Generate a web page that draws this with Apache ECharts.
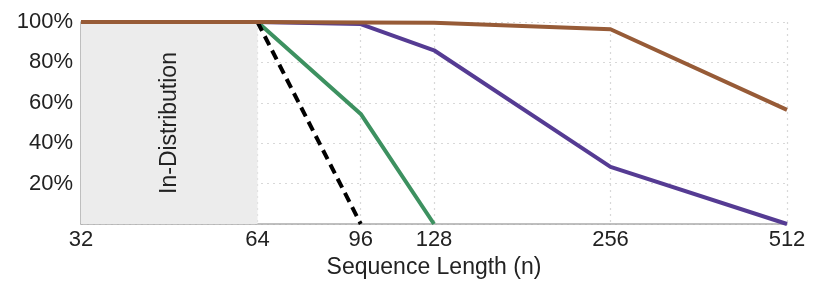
<!DOCTYPE html>
<html><head><meta charset="utf-8">
<script src="https://cdn.jsdelivr.net/npm/echarts@6/dist/echarts.min.js"></script>
<style>html,body{margin:0;padding:0;background:#fff}#c{width:821px;height:296px}</style>
</head><body><div id="c"></div>
<script>
const xTicks = [32, 64, 96, 128, 256, 512];
const yTicks = [20, 40, 60, 80, 100];
const brownN = [32, 64, 96, 128, 256, 512];
const brownV = [100, 100, 99.8, 99.6, 96.4, 56.5];
const purpleN = [32, 64, 96, 128, 256, 512];
const purpleV = [100, 100, 99, 86, 28.3, 0];
const greenN = [32, 64, 96, 128];
const greenV = [100, 100, 54.5, 0];
const blackN = [64, 96];
const blackV = [100, 0];
const regionN = [32, 64];
const regionLabel = 'In-Distribution';

const L = Math.log2;
const pts = (ns, vs) => ns.map((n, i) => [L(n), vs[i]]);
const font = 'Liberation Sans, Arial, sans-serif';

const chart = echarts.init(document.getElementById('c'), null, {renderer: 'canvas'});
chart.setOption({
  animation: false,
  grid: {left: 81, right: 34, top: 22, bottom: 72, containLabel: false},
  xAxis: {
    type: 'value', min: L(32), max: L(512),
    name: 'Sequence Length (n)', nameLocation: 'middle', nameGap: 32,
    nameTextStyle: {fontFamily: font, fontSize: 23, color: '#222'},
    axisLine: {show: true, lineStyle: {color: '#aaa', width: 1.5}},
    axisTick: {show: false, customValues: xTicks.map(L)},
    axisLabel: {customValues: xTicks.map(L), formatter: v => String(Math.round(Math.pow(2, v))),
      fontFamily: font, fontSize: 22, color: '#222', margin: 5},
    splitLine: {show: true, lineStyle: {color: '#d8d8d8', type: [2, 4], width: 1.2}}
  },
  yAxis: {
    type: 'value', min: 0, max: 100, interval: 20,
    axisLine: {show: true, lineStyle: {color: '#aaa', width: 1.5}},
    axisTick: {show: false},
    axisLabel: {formatter: v => v === 0 ? '' : v + '%', fontFamily: font, fontSize: 22, color: '#222', margin: 8,
      customValues: yTicks},
    splitLine: {show: true, lineStyle: {color: '#d8d8d8', type: [2, 4], width: 1.2}}
  },
  series: [
    {type: 'line', data: [], silent: true,
     markArea: {silent: true, itemStyle: {color: '#ececec'},
       label: {show: true, position: 'inside', rotate: 90, formatter: regionLabel,
         fontFamily: font, fontSize: 23, color: '#222'},
       data: [[{xAxis: L(regionN[0]), yAxis: 0}, {xAxis: L(regionN[1]), yAxis: 100}]]}},
    {type: 'line', data: pts(greenN, greenV), symbol: 'none', lineStyle: {color: '#3d9160', width: 4}, z: 3},
    {type: 'line', data: pts(blackN, blackV), symbol: 'none', lineStyle: {color: '#000', width: 4, type: [10, 6]}, z: 4},
    {type: 'line', data: pts(purpleN, purpleV), symbol: 'none', lineStyle: {color: '#553b93', width: 4}, z: 5},
    {type: 'line', data: pts(brownN, brownV), symbol: 'none', lineStyle: {color: '#975b37', width: 4}, z: 6}
  ]
});
</script></body></html>
